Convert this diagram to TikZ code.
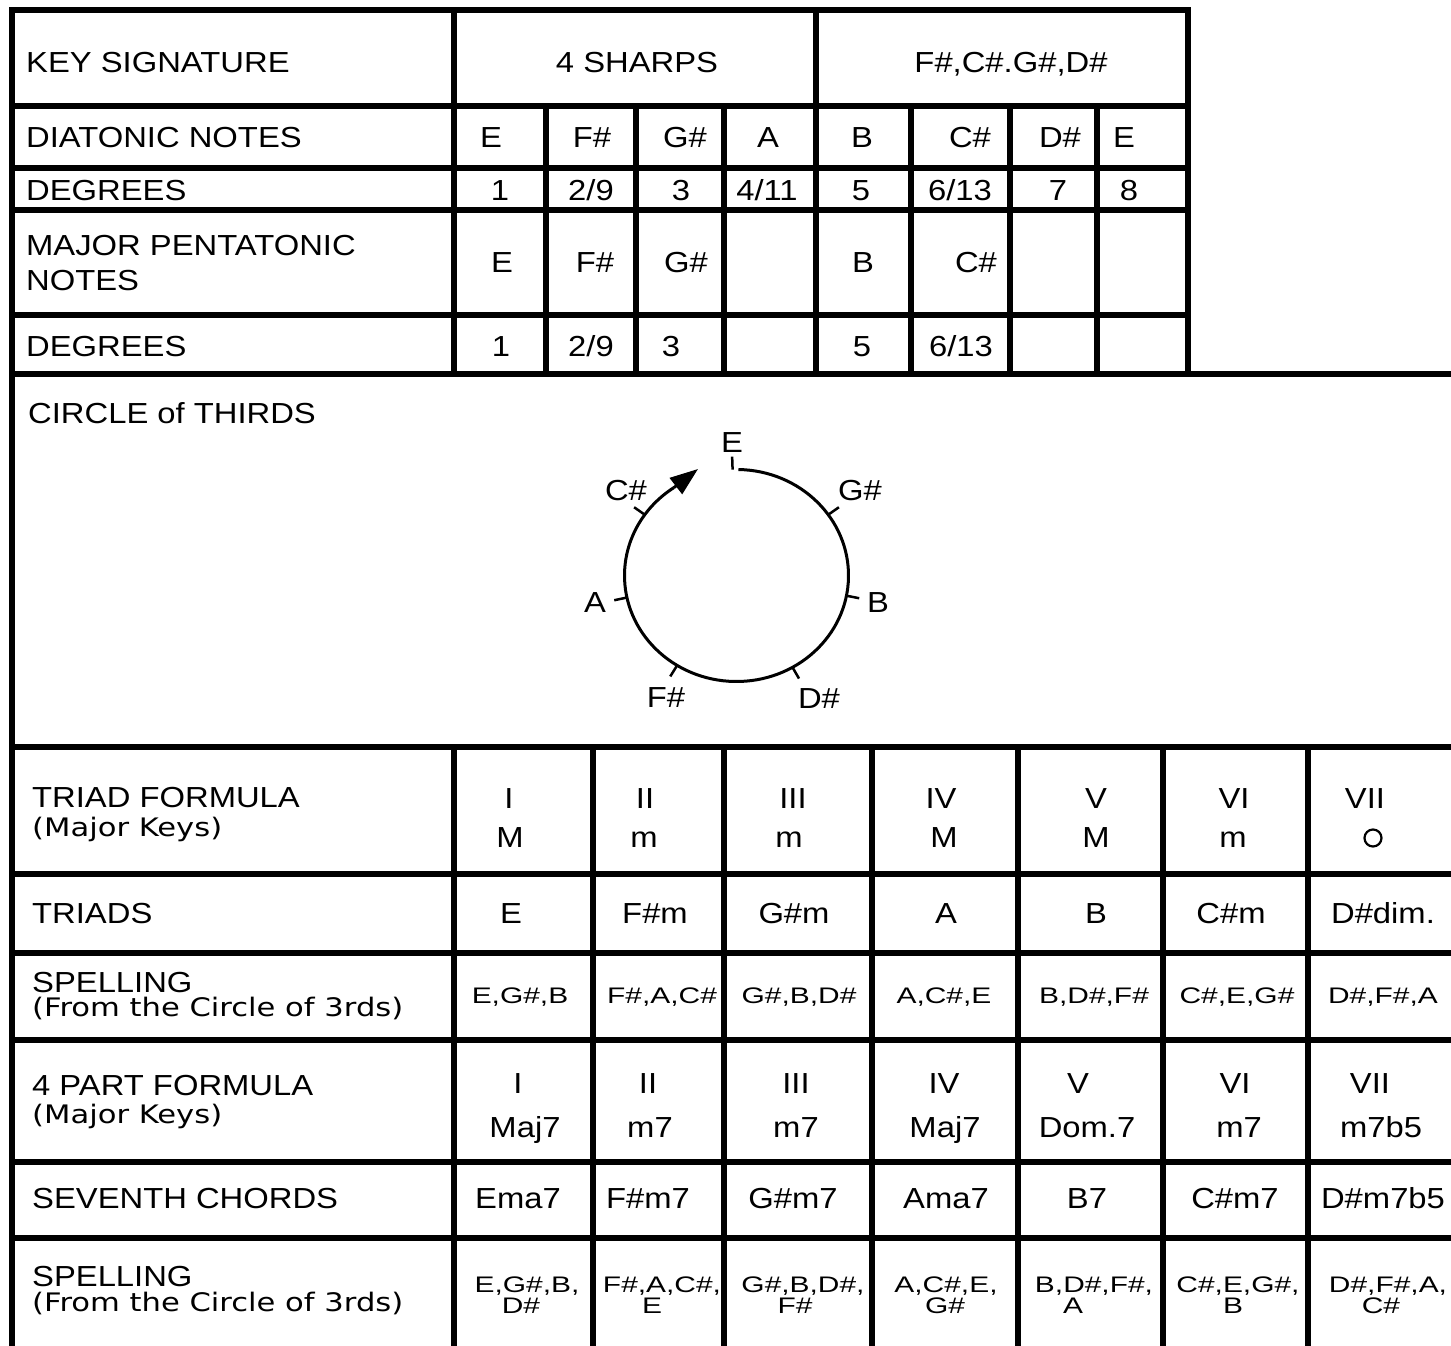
\documentclass[tikz,border=0pt]{standalone}
\usepackage{fontspec}
\setmainfont{Liberation Sans}
\newfontfamily\labfont[FakeStretch=1.13]{Liberation Sans}
\newfontfamily\splfont[FakeStretch=1.33]{Liberation Sans}
\newfontfamily\parfont[FakeStretch=1.2]{DejaVu Sans}
\usetikzlibrary{arrows.meta}
\tikzset{
  rule/.style={line width=6pt, line cap=rect},
  lab/.style={anchor=base west, inner sep=0pt, font=\labfont\fontsize{29}{33}\selectfont},
  val/.style={anchor=base, inner sep=0pt, font=\labfont\fontsize{29}{33}\selectfont},
  sub/.style={anchor=base west, inner sep=0pt, font=\parfont\fontsize{25.5}{28}\selectfont},
  spl/.style={anchor=base, inner sep=0pt, font=\splfont\fontsize{22.5}{24}\selectfont},
  ring/.style={line width=3pt},
  tickmark/.style={line width=2.5pt},
}
\begin{document}
\begin{tikzpicture}[x=1pt,y=-1pt]
\useasboundingbox (0,0) rectangle (1451,1346);
\clip (0,0) rectangle (1451,1346);
% ---- rules ----
\foreach \y in {10,106,168,210,315} \draw[rule] (12,\y) -- (1188,\y);
\foreach \y in {374,747,874,953,1040,1162,1238} \draw[rule] (12,\y) -- (1460,\y);
\draw[rule] (12,10) -- (12,1360);
\foreach \x in {454,816,1188} \draw[rule] (\x,10) -- (\x,374);
\foreach \x in {546,636,724,911,1010,1097} \draw[rule] (\x,106) -- (\x,374);
\foreach \x in {454,593,724,872,1018,1163,1308} \draw[rule] (\x,747) -- (\x,1360);
% ---- top table ----
\node[lab] (ks) at (26,73) {KEY SIGNATURE};
\node[val] (ks1) at (637,73) {4 SHARPS};
\node[val] (ks2) at (1011,73) {F\#,C\#.G\#,D\#};
\node[lab] (dn) at (26,147) {DIATONIC NOTES};
\foreach \x/\t [count=\i] in {491/E,592/F\#,685/G\#,768/A,862/B,970/C\#,1060/D\#,1124/E}
  \node[val] (dn\i) at (\x,147) {\t};
\node[lab] (dg) at (26,200) {DEGREES};
\foreach \x/\t [count=\i] in {500/1,591/2\slash 9,681/3,767/4\slash 11,861/5,960/6\slash 13,1058/7,1129/8}
  \node[val] (dg\i) at (\x,200) {\t};
\node[lab] (mp) at (26,255) {MAJOR PENTATONIC};
\node[lab] (mp2) at (26,290) {NOTES};
\foreach \x/\t [count=\i] in {502/E,595/F\#,686/G\#,863/B,976/C\#}
  \node[val] (mp\i) at (\x,272) {\t};
\node[lab] (pd) at (26,356) {DEGREES};
\foreach \x/\t [count=\i] in {501/1,591/2\slash 9,671/3,862/5,961/6\slash 13}
  \node[val] (pd\i) at (\x,356) {\t};
% ---- circle of thirds ----
\node[lab] (cot) at (28,423) {CIRCLE of THIRDS};
\coordinate (c) at (736.5,575.5);
\draw[ring] (c) ++(-89:112 and 106) arc[start angle=-89, end angle=236, x radius=112, y radius=106] coordinate (aend);
\coordinate (tip) at (698,469);
\draw[ring, -{Triangle[length=28pt,width=20pt]}] (aend) -- (tip);
\foreach \a in {92,35,-11,-60,-122,-168,145}
  \draw[tickmark, shift={(c)}] (-\a:112 and 106) -- (-\a:125 and 119);
\node[val] (nE) at (732,452) {E};
\node[val] (nGs) at (860,500) {G\#};
\node[val] (nCs) at (626,500) {C\#};
\node[val] (nA) at (595,612) {A};
\node[val] (nB) at (878,612) {B};
\node[val] (nFs) at (666,707) {F\#};
\node[val] (nDs) at (819,708) {D\#};
% ---- triad formula ----
\node[lab] (tf) at (32,807) {TRIAD FORMULA};
\node[sub] (tf2) at (32,836.5) {(Major Keys)};
\foreach \x/\t [count=\i] in {509/I,645/II,793/III,941/IV,1096/V,1234/VI,1365/VII}
  \node[val] (tr\i) at (\x,808) {\t};
\foreach \x/\t [count=\i] in {510/M,644/m,789/m,944/M,1096/M,1233/m}
  \node[val] (tq\i) at (\x,847) {\t};
\node[circle, draw, line width=2.2pt, minimum size=17pt, inner sep=0pt] (dimsym) at (1373,838) {};
% ---- triads ----
\node[lab] (td) at (32,923) {TRIADS};
\foreach \x/\t [count=\i] in {511/E,655/F\#m,794/G\#m,946/A,1096/B,1231/C\#m,1383/D\#dim.}
  \node[val] (td\i) at (\x,923) {\t};
% ---- spelling ----
\node[lab] (sp) at (32,992) {SPELLING};
\node[sub] (sp2) at (32,1016.5) {(From the Circle of 3rds)};
\foreach \x/\t [count=\i] in {520/{E,G\#,B},662/{F\#,A,C\#},799/{G\#,B,D\#},944/{A,C\#,E},1094/{B,D\#,F\#},1237/{C\#,E,G\#},1383/{D\#,F\#,A}}
  \node[spl] (sv\i) at (\x,1003) {\t};
% ---- 4 part formula ----
\node[lab] (pf) at (32,1095) {4 PART FORMULA};
\node[sub] (pf2) at (32,1123.5) {(Major Keys)};
\foreach \x/\t [count=\i] in {518/I,648/II,796/III,944/IV,1078/V,1235/VI,1370/VII}
  \node[val] (pr\i) at (\x,1093) {\t};
\foreach \x/\t [count=\i] in {525/Maj7,650/m7,796/m7,945/Maj7,1087/Dom.7,1239/m7,1381/m7b5}
  \node[val] (pq\i) at (\x,1137) {\t};
% ---- seventh chords ----
\node[lab] (sc) at (32,1208) {SEVENTH CHORDS};
\foreach \x/\t [count=\i] in {518/Ema7,648/F\#m7,793/G\#m7,946/Ama7,1087/B7,1235/C\#m7,1383/D\#m7b5}
  \node[val] (sc\i) at (\x,1208) {\t};
% ---- spelling 2 ----
\node[lab] (sq) at (32,1286) {SPELLING};
\node[sub] (sq2) at (32,1311) {(From the Circle of 3rds)};
\foreach \x/\t [count=\i] in {527/{E,G\#,B,},662/{F\#,A,C\#,},803/{G\#,B,D\#,},946/{A,C\#,E,},1094/{B,D\#,F\#,},1238/{C\#,E,G\#,},1388/{D\#,F\#,A,}}
  \node[spl] (sw\i) at (\x,1292) {\t};
\foreach \x/\t [count=\i] in {521/D\#,652/E,795/F\#,945/G\#,1073/A,1233/B,1381/C\#}
  \node[spl] (sx\i) at (\x,1313) {\t};
\end{tikzpicture}
\end{document}
